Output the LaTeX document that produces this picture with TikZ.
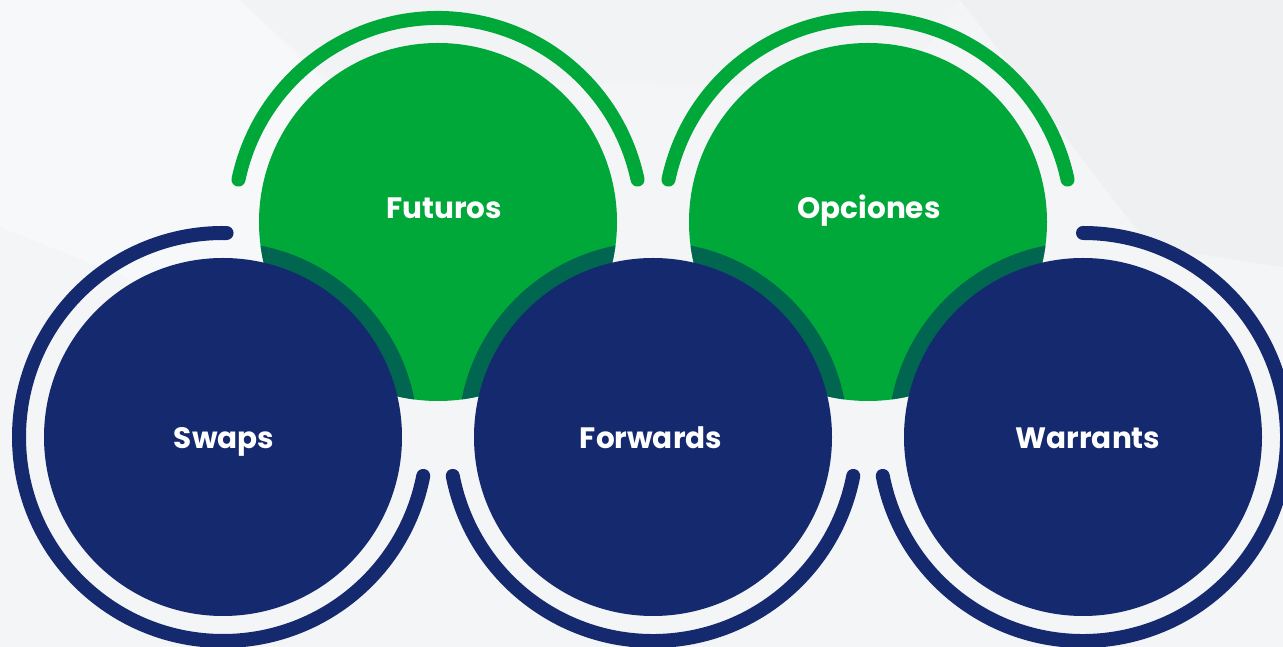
\documentclass[tikz,border=0pt]{standalone}
\usepackage{fontspec}
\setmainfont{Poppins}
\definecolor{bggray}{HTML}{F4F5F7}
\definecolor{bglight}{HTML}{F7F8FA}
\definecolor{bgdark}{HTML}{EFF0F2}
\definecolor{dgreen}{HTML}{00A83A}
\definecolor{dblue}{HTML}{152A6E}
\definecolor{dteal}{HTML}{00664F}
\tikzset{
  gdisk/.style={circle, fill=dgreen, minimum size=358pt, inner sep=0pt},
  bdisk/.style={circle, fill=dblue, minimum size=358pt, inner sep=0pt},
  garc/.style={draw=dgreen, line width=14pt, line cap=round},
  barc/.style={draw=dblue, line width=14pt, line cap=round},
  lbl/.style={text=white, font=\bfseries\fontsize{29.5}{31}\selectfont, anchor=base}
}
\begin{document}
\begin{tikzpicture}[x=1pt,y=1pt]
\useasboundingbox (0,0) rectangle (1283,647);
% background
\fill[bggray] (0,0) rectangle (1283,647);
\fill[bglight] (0,647) -- (240,647) -- (420,470) -- (300,300) -- (0,420) -- cycle;
\fill[bgdark] (960,647) -- (1283,647) -- (1283,380) -- (1150,400) -- cycle;
\fill[bgdark!50!bggray] (240,647) -- (960,647) -- (900,560) -- (330,567) -- cycle;
% centres
\coordinate (cFut) at (438,425);
\coordinate (cOpc) at (868,425);
\coordinate (cSwa) at (223,210);
\coordinate (cFor) at (653,210);
\coordinate (cWar) at (1083,210);
% green disks
\node[gdisk] (futuros) at (cFut) {};
\node[gdisk] (opciones) at (cOpc) {};
% dark shadow bands
\begin{scope}
  \clip (cFut) circle[radius=179];
  \fill[dteal] (cSwa) circle[radius=195];
  \fill[dteal] (cFor) circle[radius=195];
\end{scope}
\begin{scope}
  \clip (cOpc) circle[radius=179];
  \fill[dteal] (cFor) circle[radius=195];
  \fill[dteal] (cWar) circle[radius=195];
\end{scope}
% blue disks
\node[bdisk] (swaps) at (cSwa) {};
\node[bdisk] (forwards) at (cFor) {};
\node[bdisk] (warrants) at (cWar) {};
% outer arcs
\draw[garc] (cFut) ++(168:204) arc[start angle=168, end angle=12, radius=204];
\draw[garc] (cOpc) ++(168:204) arc[start angle=168, end angle=12, radius=204];
\draw[barc] (cSwa) ++(89:204) arc[start angle=89, end angle=349, radius=204];
\draw[barc] (cFor) ++(191:204) arc[start angle=191, end angle=349, radius=204];
\draw[barc] (cWar) ++(191:204) arc[start angle=191, end angle=450, radius=204];
% labels
\node[lbl] (tFut) at (444,428) {Futuros};
\node[lbl] (tOpc) at (869,428) {Opciones};
\node[lbl] (tSwa) at (224,198) {Swaps};
\node[lbl] (tFor) at (651,198) {Forwards};
\node[lbl] (tWar) at (1088,198) {Warrants};
\end{tikzpicture}
\end{document}
